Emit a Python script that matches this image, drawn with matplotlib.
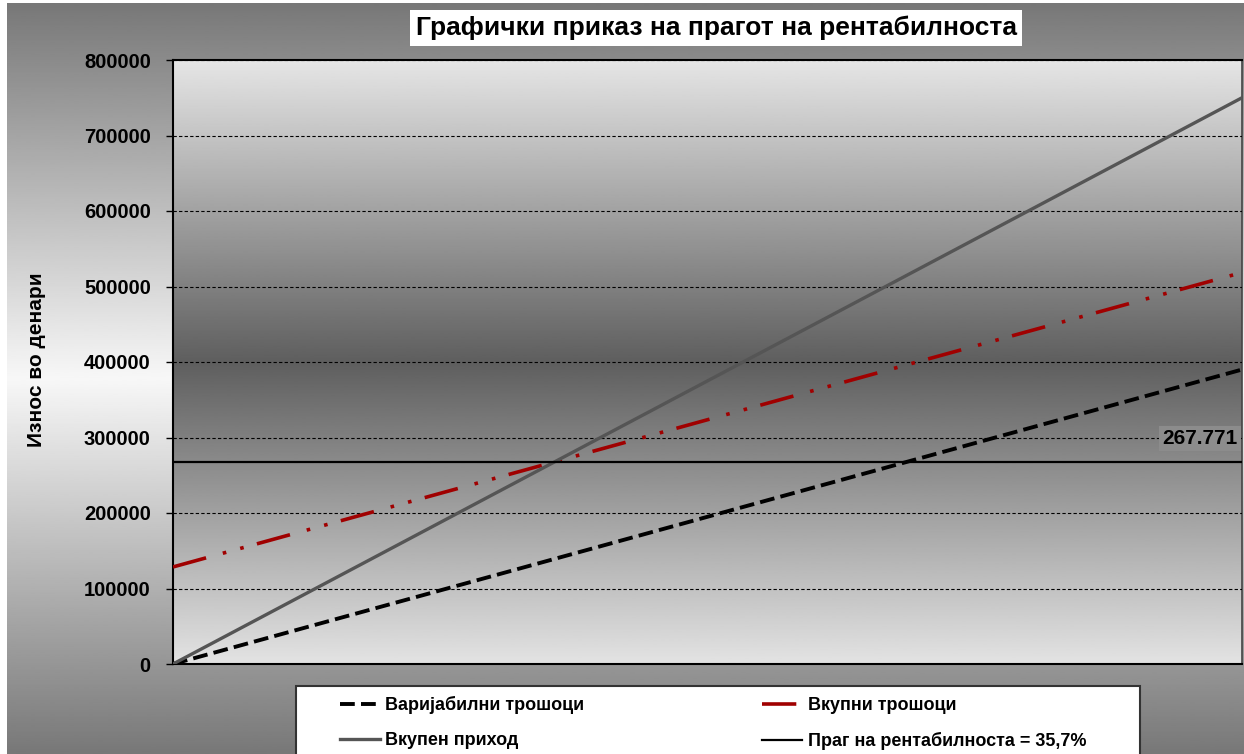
import numpy as np
import matplotlib
matplotlib.use('Agg')
from matplotlib import pyplot as plt
from matplotlib.patches import Rectangle
import matplotlib.transforms as mtransforms

plt.rcParams['font.family'] = ['Liberation Sans', 'DejaVu Sans']
plt.rcParams['font.weight'] = 'bold'

# data (x = level of activity in %)
activity = [0, 100]
variable_costs = [0, 390000]
total_costs = [128541, 518541]
total_revenue = [0, 750000]
break_even_value = 267771
break_even_label = "267.771"

title_string = "Графички приказ на прагот на рентабилноста"
ylabel_string = "Износ во денари"
yticks = [0, 100000, 200000, 300000, 400000, 500000, 600000, 700000, 800000]

W, H = 1244, 754
fig = plt.figure(figsize=(W / 100, H / 100), dpi=100, facecolor='white')

# figure background gradient
bg = fig.add_axes([7 / W, 0, 1 - 7 / W, 1 - 3 / H], zorder=-5)
t = np.linspace(0, 1, 400)
bg_vals = np.interp(t, [0, 0.5, 1], [0.47, 0.97, 0.47])
bg.imshow(bg_vals.reshape(-1, 1), cmap='gray', vmin=0, vmax=1, aspect='auto',
          extent=[0, 1, 0, 1], interpolation='bilinear')
bg.set_axis_off()

# main axes
ax = fig.add_axes([173 / W, 1 - 664 / H, (1242 - 173) / W, (664 - 60) / H])
ax.set_facecolor('none')
plot_vals = np.interp(t, [0, 0.5, 1], [0.90, 0.37, 0.89])
ax.imshow(plot_vals.reshape(-1, 1), cmap='gray', vmin=0, vmax=1, aspect='auto',
          extent=[0, 1, 0, 1], transform=ax.transAxes, interpolation='bilinear', zorder=0)

ax.set_xlim(0, 100)
ax.set_ylim(0, 800000)
ax.set_yticks(yticks)
ax.set_yticklabels([str(v) for v in yticks])
ax.set_xticks([])
ax.yaxis.grid(True, color='black', linestyle=(0, (3, 2)), linewidth=0.8, zorder=1)
ax.set_axisbelow(False)
ax.tick_params(axis='y', direction='out', length=5, width=1, pad=11, labelsize=14.5)
for s in ['left', 'bottom', 'top']:
    ax.spines[s].set_linewidth(1.5)
    ax.spines[s].set_color('black')
ax.spines['right'].set_color('#444444')
ax.spines['right'].set_linewidth(1.2)

l_var, = ax.plot(activity, variable_costs, color='black', linewidth=2.8,
                 linestyle=(0, (3.8, 1.6)), zorder=3, label='Варијабилни трошоци')
l_tot, = ax.plot(activity, total_costs, color='#a00000', linewidth=2.6,
                 linestyle=(0, (9.5, 4.8, 1.0, 4.0, 1.0, 3.8)), zorder=3,
                 label='Вкупни трошоци')
l_rev, = ax.plot(activity, total_revenue, color='#555555', linewidth=2.4,
                 zorder=4, label='Вкупен приход')
l_be = ax.axhline(break_even_value, color='black', linewidth=1.6, zorder=5,
                  label='Праг на рентабилноста = 35,7%')

trans = mtransforms.blended_transform_factory(ax.transAxes, ax.transData)
ax.text(0.996, break_even_value + 31000, break_even_label, transform=trans,
        ha='right', va='center', fontsize=15, fontweight='bold', zorder=6,
        bbox=dict(boxstyle='square,pad=0.15', facecolor='#8c8c8c', edgecolor='none'))

# title
fig.text(716 / W, 1 - 28 / H, title_string, ha='center', va='center', fontsize=19,
         fontweight='bold',
         bbox=dict(boxstyle='square,pad=0.2', facecolor='white', edgecolor='none'))

fig.text(37 / W, 1 - 360 / H, ylabel_string, rotation=90, ha='center', va='center',
         fontsize=15, fontweight='bold')

# legend box
fig.add_artist(Rectangle((296 / W, -0.02), (1140 - 296) / W, (754 - 686) / H + 0.02,
                         transform=fig.transFigure, facecolor='white',
                         edgecolor='#333333', linewidth=1.5, zorder=2))
leg = fig.legend(handles=[l_var, l_rev, l_tot, l_be], ncol=2, frameon=False,
                 loc='upper left', bbox_to_anchor=(324 / W, 1 - 680 / H),
                 prop={'size': 13, 'weight': 'bold'}, handlelength=2.2,
                 handletextpad=0.3, labelspacing=1.0, columnspacing=9.85)
leg.set_zorder(3)

fig.savefig('out.png', dpi=100)
